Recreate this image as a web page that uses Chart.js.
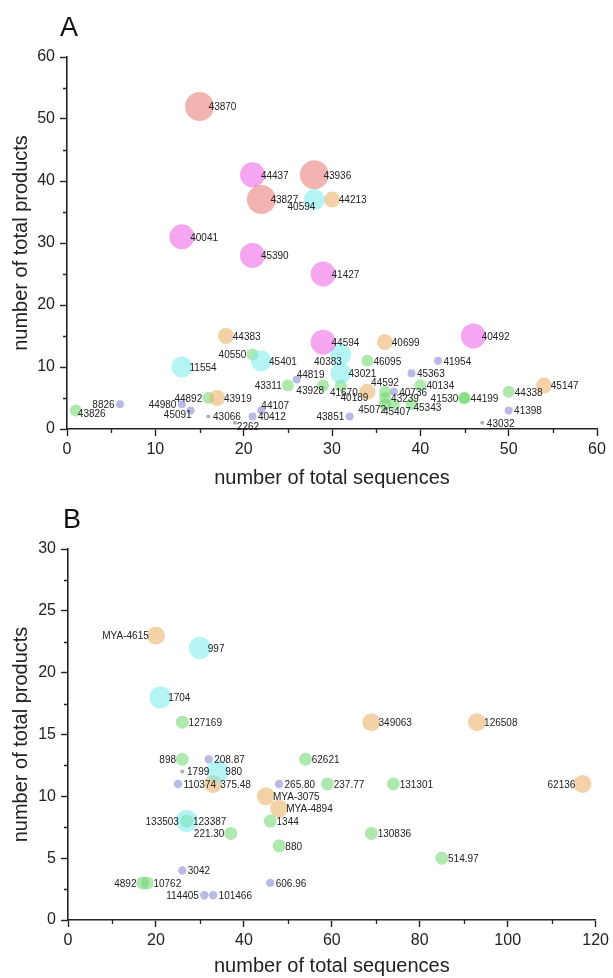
<!DOCTYPE html>
<html>
<head>
<meta charset="utf-8">
<script src="https://cdn.jsdelivr.net/npm/chart.js@4"></script>
<style>
  html, body { margin: 0; padding: 0; background: #fff; }
  .panel { position: relative; width: 613px; }
  #boxA { height: 490px; }
  #boxB { height: 488px; }
</style>
</head>
<body>
<div class="panel" id="boxA"><canvas id="chartA"></canvas></div>
<div class="panel" id="boxB"><canvas id="chartB"></canvas></div>
<script>
// ---- panel A data (tier 1 = smallest bubble class, 7 = largest) ----
const aNames = ['43870', '43827', '43936',
  '44437', '40041', '45390', '41427', '44594', '40492',
  '40594', '45401', '11554', '40383', '43021',
  '44213', '44383', '40699', '40189', '45147', '43919',
  '40550', '46095', '43311', '43928', '41670', '44592', '43239', '45072', '45407', '45343', '40134', '41530', '44199', '44338', '43826', '44892',
  '41954', '45363', '44819', '40736', '41398', '43851', '8826', '44980', '45091', '44107', '40412',
  '43032', '43066', '2262'];
const aSeq = [15, 22, 28,
  21, 13, 21, 29, 29, 46,
  28, 22, 13, 31, 31,
  30, 18, 36, 34, 54, 17,
  21, 34, 25, 29, 31, 36, 36, 36, 37, 39, 40, 45, 45, 50, 1, 16,
  42, 39, 26, 37, 50, 32, 6, 13, 14, 22, 21,
  47, 16, 19];
const aProd = [52, 37, 41,
  41, 31, 28, 25, 14, 15,
  37, 11, 10, 12, 9,
  37, 15, 14, 6, 7, 5,
  12, 11, 7, 7, 7, 6, 5, 4, 4, 4, 7, 5, 5, 6, 3, 5,
  11, 9, 8, 6, 3, 2, 4, 4, 3, 3, 2,
  1, 2, 1];
const aTier = [7, 7, 7,
  6, 6, 6, 6, 6, 6,
  5, 5, 5, 5, 5,
  4, 4, 4, 4, 4, 4,
  3, 3, 3, 3, 3, 3, 3, 3, 3, 3, 3, 3, 3, 3, 3, 3,
  2, 2, 2, 2, 2, 2, 2, 2, 2, 2, 2,
  1, 1, 1];
const aXTicks = [0, 10, 20, 30, 40, 50, 60];
const aYTicks = [0, 10, 20, 30, 40, 50, 60];

// ---- panel B data ----
const bNames = ['997', '1704', '980', '133503',
  'MYA-4615', '349063', '126508', '375.48', '62136', 'MYA-3075', 'MYA-4894',
  '127169', '898', '62621', '237.77', '131301', '123387', '1344', '221.30', '130836', '880', '514.97', '4892', '10762',
  '208.87', '110374', '265.80', '3042', '606.96', '114405', '101466',
  '1799'];
const bSeq = [30, 21, 34, 27,
  20, 69, 93, 33, 117, 45, 48,
  26, 26, 54, 59, 74, 27, 46, 37, 69, 48, 85, 17, 18,
  32, 25, 48, 26, 46, 31, 33,
  26];
const bProd = [22, 18, 12, 8,
  23, 16, 16, 11, 11, 10, 9,
  16, 13, 13, 11, 11, 8, 8, 7, 7, 6, 5, 3, 3,
  13, 11, 11, 4, 3, 2, 2,
  12];
const bTier = [5, 5, 5, 5,
  4, 4, 4, 4, 4, 4, 4,
  3, 3, 3, 3, 3, 3, 3, 3, 3, 3, 3, 3, 3,
  2, 2, 2, 2, 2, 2, 2,
  1];
const bXTicks = [0, 20, 40, 60, 80, 100, 120];
const bYTicks = [0, 5, 10, 15, 20, 25, 30];

// ---- styling ----
const FONT = '"Liberation Sans", Arial, sans-serif';
const tierColors = {
  1: 'rgba(150,150,150,0.75)',
  2: 'rgba(140,140,215,0.6)',
  3: 'rgba(110,215,110,0.55)',
  4: 'rgba(235,180,110,0.6)',
  5: 'rgba(120,235,235,0.55)',
  6: 'rgba(240,110,230,0.62)',
  7: 'rgba(232,125,120,0.58)'
};
const radiiA = { 1: 2, 2: 4, 3: 6, 4: 8, 5: 10.5, 6: 12.5, 7: 14.5 };
const radiiB = { 1: 2, 2: 4.2, 3: 6.5, 4: 9, 5: 11 };

// where each label sits around its bubble (default: right)
const sidesA = {
  '40550': 'l', '43311': 'l', '8826': 'l', '44980': 'l', '44892': 'l', '41530': 'l', '43851': 'l',
  '40594': 'bl', '40383': 'bl', '43928': 'bl', '40189': 'bl', '45091': 'bl', '45072': 'bl',
  '43826': 'br', '45343': 'br', '2262': 'br',
  '44819': 'ar', '44107': 'ar',
  '44592': 'a',
  '41670': 'b', '45407': 'b'
};
const sidesB = {
  'MYA-4615': 'l', '898': 'l', '133503': 'l', '221.30': 'l', '4892': 'l', '114405': 'l', '62136': 'l'
};

const pointLabels = {
  id: 'pointLabels',
  afterDatasetsDraw(chart, args, opts) {
    const ctx = chart.ctx;
    ctx.save();
    ctx.font = '10px ' + FONT;
    ctx.fillStyle = '#222';
    ctx.textBaseline = 'middle';
    chart.data.datasets.forEach((ds, di) => {
      const meta = chart.getDatasetMeta(di);
      meta.data.forEach((el, i) => {
        const name = ds.data[i].name;
        const r = ds.radius;
        const off = 4 + r * 0.35;
        let x = el.x + off, y = el.y + 1, align = 'left';
        switch (opts.sides[name] || 'r') {
          case 'l': x = el.x - off; align = 'right'; break;
          case 'bl': x = el.x + 1; y = el.y + 4 + r * 0.3; align = 'right'; break;
          case 'br': x = el.x + 2; y = el.y + 4; break;
          case 'ar': x = el.x; y = el.y - 4; break;
          case 'a': x = el.x; y = el.y - 9; align = 'center'; break;
          case 'b': x = el.x + 3; y = el.y + 8; align = 'center'; break;
        }
        ctx.textAlign = align;
        ctx.fillText(name, x, y);
      });
    });
    ctx.restore();
  }
};

// minor ticks between the major ones + the panel letter
const frame = {
  id: 'frame',
  afterDraw(chart, args, opts) {
    const { ctx, chartArea: a } = chart;
    const sx = chart.scales.x, sy = chart.scales.y;
    const mids = ts => ts.slice(1).map((t, i) => (ts[i].value + t.value) / 2);
    ctx.save();
    ctx.strokeStyle = '#222';
    ctx.lineWidth = 1.3;
    ctx.beginPath();
    mids(sx.ticks).forEach(v => {
      const px = Math.round(sx.getPixelForValue(v)) + 0.5;
      ctx.moveTo(px, a.bottom); ctx.lineTo(px, a.bottom + 4);
    });
    mids(sy.ticks).forEach(v => {
      const py = Math.round(sy.getPixelForValue(v)) + 0.5;
      ctx.moveTo(a.left, py); ctx.lineTo(a.left - 4, py);
    });
    ctx.stroke();
    ctx.font = '27px ' + FONT;
    ctx.fillStyle = '#111';
    ctx.textAlign = 'left';
    ctx.textBaseline = 'alphabetic';
    ctx.fillText(opts.letter, opts.lx, opts.ly);
    ctx.restore();
  }
};

function makePanel(id, cfg) {
  const tiers = [...new Set(cfg.tier)].sort((p, q) => q - p);
  const datasets = tiers.map(t => ({
    label: 'tier ' + t,
    data: cfg.names
      .map((n, i) => ({ x: cfg.seq[i], y: cfg.prod[i], name: n, t: cfg.tier[i] }))
      .filter(p => p.t === t),
    backgroundColor: tierColors[t],
    borderWidth: 0,
    radius: cfg.radii[t],
    hoverRadius: 0
  }));
  const axisBase = (ticksArr, title, size) => ({
    type: 'linear',
    min: ticksArr[0],
    max: ticksArr[ticksArr.length - 1],
    afterBuildTicks: s => { s.ticks = ticksArr.map(v => ({ value: v })); },
    ticks: { color: '#222', font: { size: 16, family: FONT }, padding: 4 },
    grid: { drawOnChartArea: false, tickLength: 7, color: '#222', tickWidth: 1.4 },
    border: { color: '#222', width: 1.6 },
    title: { display: true, text: title, color: '#222', font: { size: size, family: FONT }, padding: 0 }
  });
  const x = axisBase(cfg.xTicks, 'number of total sequences', 20);
  x.afterFit = s => { s.height = cfg.xh; };
  const y = axisBase(cfg.yTicks, 'number of total products', 20);
  y.afterFit = s => { s.width = cfg.yw; };
  y.ticks.padding = 5;

  return new Chart(document.getElementById(id), {
    type: 'bubble',
    data: { datasets },
    options: {
      responsive: true,
      maintainAspectRatio: false,
      animation: false,
      events: [],
      layout: { padding: { left: 9, right: 16, top: cfg.top, bottom: 0 } },
      plugins: {
        legend: { display: false },
        tooltip: { enabled: false },
        pointLabels: { sides: cfg.sides },
        frame: { letter: cfg.letter, lx: cfg.lx, ly: cfg.ly }
      },
      scales: { x, y }
    },
    plugins: [pointLabels, frame]
  });
}

makePanel('chartA', {
  names: aNames, seq: aSeq, prod: aProd, tier: aTier,
  radii: radiiA, sides: sidesA, xTicks: aXTicks, yTicks: aYTicks,
  top: 57, xh: 61, yw: 58, letter: 'A', lx: 60, ly: 36
});
makePanel('chartB', {
  names: bNames, seq: bSeq, prod: bProd, tier: bTier,
  radii: radiiB, sides: sidesB, xTicks: bXTicks, yTicks: bYTicks,
  top: 59, xh: 58, yw: 59, letter: 'B', lx: 63, ly: 38
});
</script>
</body>
</html>
